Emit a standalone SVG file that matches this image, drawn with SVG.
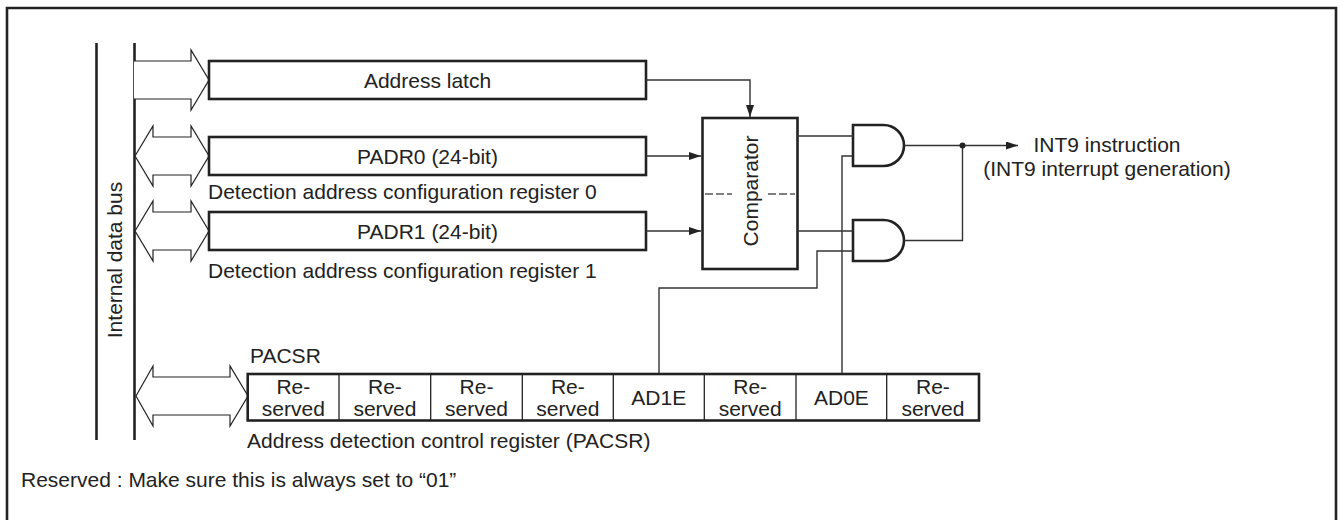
<svg xmlns="http://www.w3.org/2000/svg" width="1340" height="520" viewBox="0 0 1340 520">
<style>
text{font-family:"Liberation Sans",Arial,sans-serif;font-size:21px;fill:#222}
.mid{text-anchor:middle}
.box{fill:#fff;stroke:#222;stroke-width:2.6}
.bus{fill:none;stroke:#222;stroke-width:2.6}
.arr{fill:#fff;stroke:#222;stroke-width:1.2;stroke-linejoin:miter}
.wire{fill:none;stroke:#333;stroke-width:1.4}
.div{stroke:#222;stroke-width:1.3}
.gate{fill:#fff;stroke:#222;stroke-width:2.6}
</style>
<defs>
<marker id="ah" viewBox="0 0 12 8" refX="12" refY="4" markerWidth="12" markerHeight="8" markerUnits="userSpaceOnUse" orient="auto">
<path d="M0,0 L12,4 L0,8 Z" fill="#222"/>
</marker>
</defs>

<path class="bus" d="M7,530 V8 H1336 V530"/>

<g id="bus">
<line class="bus" x1="96.5" y1="43" x2="96.5" y2="440"/>
<line class="bus" x1="134.5" y1="43" x2="134.5" y2="440"/>
<text class="mid" transform="translate(122,260) rotate(-90)">Internal data bus</text>
</g>

<g id="bus-arrows">
<path class="arr" fill="none" d="M134,61 H191 V50 L209,80 L191,110 V99 H134"/>
<path class="arr" d="M135,156 L153,126 V137 H191 V126 L209,156 L191,186 V175 H153 V186 Z"/>
<path class="arr" d="M135,231 L153,201 V212 H191 V201 L209,231 L191,261 V250 H153 V261 Z"/>
<path class="arr" d="M136,396 L153,366 V377 H230 V366 L248,396 L230,426 V415 H153 V426 Z"/>
</g>

<g id="address-latch">
<rect class="box" x="209" y="61" width="437" height="38"/>
<text class="mid" x="427.5" y="87.5">Address latch</text>
</g>

<g id="padr0">
<rect class="box" x="209" y="137" width="437" height="38"/>
<text class="mid" x="427.5" y="163.5">PADR0 (24-bit)</text>
<text x="208" y="199">Detection address configuration register 0</text>
</g>

<g id="padr1">
<rect class="box" x="209" y="212" width="437" height="38"/>
<text class="mid" x="427.5" y="238.5">PADR1 (24-bit)</text>
<text x="208" y="278">Detection address configuration register 1</text>
</g>

<g id="comparator">
<rect class="box" x="702.5" y="118" width="95" height="151"/>
<line x1="705" y1="194" x2="732" y2="194" stroke="#555" stroke-width="1.4" stroke-dasharray="8,3"/>
<line x1="768" y1="194" x2="795" y2="194" stroke="#555" stroke-width="1.4" stroke-dasharray="8,3"/>
<text class="mid" transform="translate(758,191) rotate(-90)">Comparator</text>
</g>

<g id="and1">
<path class="gate" d="M853,125 H883.5 A20.5,20.5 0 0 1 883.5,166 H853 Z"/>
</g>
<g id="and2">
<path class="gate" d="M853,220 H883.5 A20.5,20.5 0 0 1 883.5,261 H853 Z"/>
</g>

<g id="pacsr">
<text x="250" y="363">PACSR</text>
<rect class="box" x="247.7" y="374" width="731.3" height="46.5"/>
<line class="div" x1="339" y1="374" x2="339" y2="420.5"/>
<line class="div" x1="430.7" y1="374" x2="430.7" y2="420.5"/>
<line class="div" x1="522.3" y1="374" x2="522.3" y2="420.5"/>
<line class="div" x1="613.3" y1="374" x2="613.3" y2="420.5"/>
<line class="div" x1="704.3" y1="374" x2="704.3" y2="420.5"/>
<line class="div" x1="796" y1="374" x2="796" y2="420.5"/>
<line class="div" x1="886.7" y1="374" x2="886.7" y2="420.5"/>
<text class="mid" x="293.3" y="394">Re-</text><text class="mid" x="293.3" y="415.5">served</text>
<text class="mid" x="384.9" y="394">Re-</text><text class="mid" x="384.9" y="415.5">served</text>
<text class="mid" x="476.5" y="394">Re-</text><text class="mid" x="476.5" y="415.5">served</text>
<text class="mid" x="567.8" y="394">Re-</text><text class="mid" x="567.8" y="415.5">served</text>
<text class="mid" x="658.8" y="404.5">AD1E</text>
<text class="mid" x="750.2" y="394">Re-</text><text class="mid" x="750.2" y="415.5">served</text>
<text class="mid" x="841.4" y="404.5">AD0E</text>
<text class="mid" x="932.9" y="394">Re-</text><text class="mid" x="932.9" y="415.5">served</text>
<text x="247" y="448">Address detection control register (PACSR)</text>
</g>

<g id="output-label">
<text class="mid" x="1107" y="152">INT9 instruction</text>
<text class="mid" x="1107" y="176">(INT9 interrupt generation)</text>
</g>

<g id="note">
<text x="21" y="487">Reserved : Make sure this is always set to “01”</text>
</g>

<g id="connectors">
<polyline class="wire" points="646,80 750,80 750,117" marker-end="url(#ah)"/>
<line class="wire" x1="646" y1="156" x2="701" y2="156" marker-end="url(#ah)"/>
<line class="wire" x1="646" y1="231" x2="701" y2="231" marker-end="url(#ah)"/>
<line class="wire" x1="797.5" y1="136" x2="853" y2="136"/>
<line class="wire" x1="797.5" y1="231" x2="853" y2="231"/>
<polyline class="wire" points="842,373 842,156 853,156"/>
<polyline class="wire" points="659,373 659,288 817,288 817,251 853,251"/>
<line class="wire" x1="904" y1="145.5" x2="1018" y2="145.5" marker-end="url(#ah)"/>
<polyline class="wire" points="904,240.5 962.5,240.5 962.5,145.5"/>
<circle cx="962.5" cy="145.5" r="3" fill="#222"/>
</g>
</svg>
